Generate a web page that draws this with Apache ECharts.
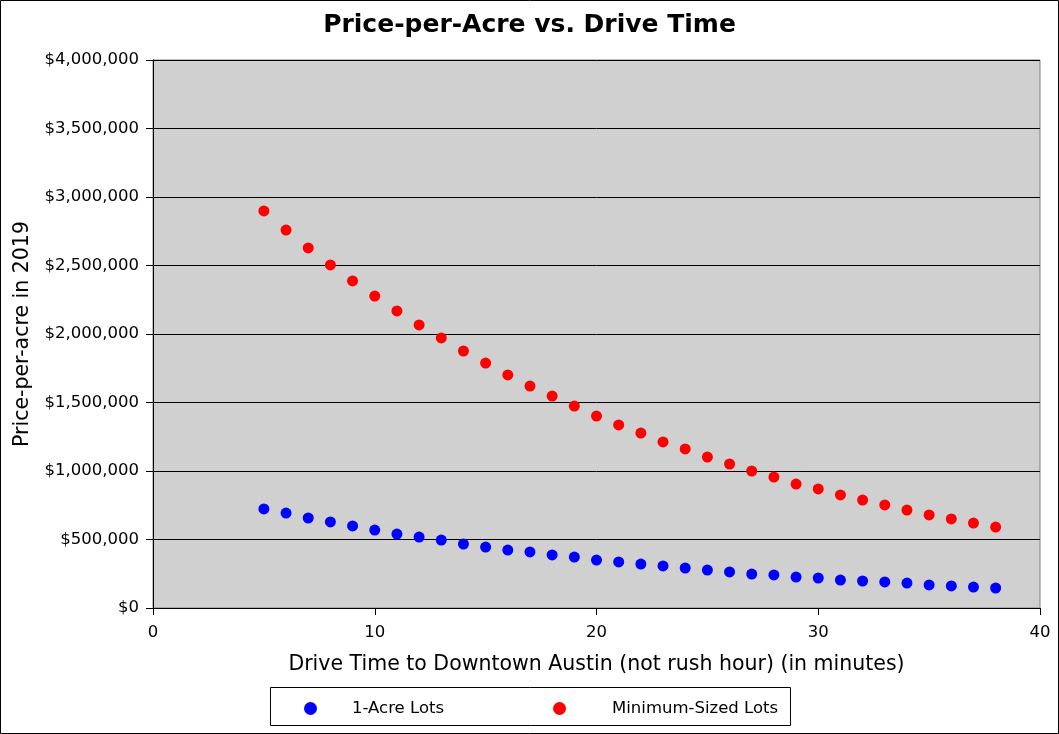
<!DOCTYPE html>
<html><head><meta charset="utf-8">
<script src="https://cdn.jsdelivr.net/npm/echarts@6/dist/echarts.min.js"></script>
<style>html,body{margin:0;padding:0;background:#fff}#c{width:1059px;height:734px}</style>
</head><body><div id="c"></div>
<script>
const driveTimes = [5,6,7,8,9,10,11,12,13,14,15,16,17,18,19,20,21,22,23,24,25,26,27,28,29,30,31,32,33,34,35,36,37,38];
const oneAcreLots = [723000,693000,657000,628000,599000,569000,540000,518000,496000,467000,445000,423000,409000,387000,372000,350000,336000,321000,307000,292000,277000,263000,248000,241000,226000,219000,204000,197000,190000,182000,168000,161000,153000,146000];
const minSizedLots = [2898000,2759000,2628000,2504000,2387000,2277000,2168000,2066000,1971000,1876000,1788000,1701000,1620000,1547000,1474000,1401000,1336000,1277000,1212000,1161000,1102000,1051000,1000000,956000,905000,869000,825000,788000,752000,715000,679000,650000,620000,591000];
const seriesNames = ['1-Acre Lots','Minimum-Sized Lots'];

const F = '"DejaVu Sans", sans-serif';
const chart = echarts.init(document.getElementById('c'));
chart.setOption({
  backgroundColor:'#fff',
  animation:false,
  textStyle:{fontFamily:F},
  title:{text:'Price-per-Acre vs. Drive Time',left:'center',top:8,textStyle:{fontFamily:F,fontWeight:'bold',fontSize:25,color:'#000'}},
  graphic:[
    {type:'rect',shape:{x:0.5,y:0.5,width:1058,height:733},style:{fill:'none',stroke:'#000',lineWidth:1},silent:true,z:-1},
    {type:'rect',shape:{x:270.5,y:687.5,width:520,height:38},style:{fill:'none',stroke:'#000',lineWidth:1},silent:true}
  ],
  legend:{left:304,top:700,padding:0,itemWidth:13,itemHeight:13,itemGap:109,icon:'circle',
    textStyle:{fontFamily:F,fontSize:16.5,color:'#000',padding:[0,0,0,30]},
    data:[{name:seriesNames[0]},{name:seriesNames[1],textStyle:{padding:[0,0,0,41]}}]},
  grid:{left:153,right:19,top:60,bottom:126,outerBoundsMode:'none',show:true,backgroundColor:'#d0d0d0',borderColor:'#808080',borderWidth:1},
  xAxis:{type:'value',min:0,max:40,interval:10,
    name:'Drive Time to Downtown Austin (not rush hour) (in minutes)',nameLocation:'middle',nameGap:46,
    nameTextStyle:{fontFamily:F,fontSize:20.5,color:'#000'},
    axisLine:{show:true,lineStyle:{color:'#000',width:1}},
    axisTick:{show:true,length:7,lineStyle:{color:'#000'}},
    axisLabel:{fontFamily:F,fontSize:16.5,color:'#000',margin:16},
    splitLine:{show:false}},
  yAxis:{type:'value',min:0,max:4000000,interval:500000,
    name:'Price-per-acre in 2019',nameLocation:'middle',nameGap:119,
    nameTextStyle:{fontFamily:F,fontSize:20.5,color:'#000'},
    axisLine:{show:true,lineStyle:{color:'#000',width:1}},
    axisTick:{show:true,length:7,lineStyle:{color:'#000'}},
    axisLabel:{fontFamily:F,fontSize:16.5,color:'#000',margin:14,
      formatter:v=>'$'+v.toLocaleString('en-US')},
    splitLine:{show:true,lineStyle:{color:'#000',width:1}}},
  series:[
    {name:seriesNames[0],type:'scatter',symbol:'circle',symbolSize:11,itemStyle:{color:'#0000ff',opacity:1},
     data:driveTimes.map((x,i)=>[x,oneAcreLots[i]])},
    {name:seriesNames[1],type:'scatter',symbol:'circle',symbolSize:11,itemStyle:{color:'#ff0000',opacity:1},
     data:driveTimes.map((x,i)=>[x,minSizedLots[i]])}
  ]
});
</script></body></html>
